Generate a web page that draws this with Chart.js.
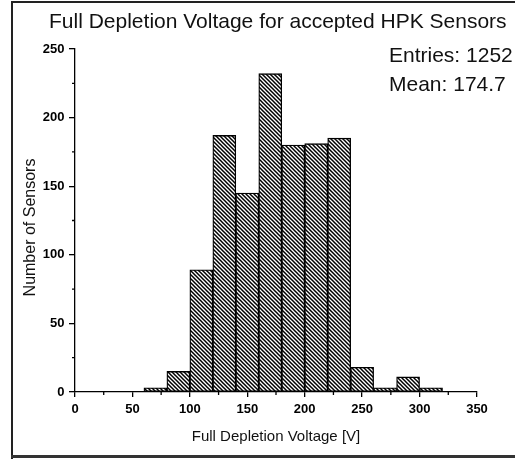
<!DOCTYPE html>
<html>
<head>
<meta charset="utf-8">
<script src="https://cdn.jsdelivr.net/npm/chart.js@4.4.0/dist/chart.umd.min.js"></script>
<style>
  html, body { margin: 0; padding: 0; background: #fff; }
  canvas { display: block; }
</style>
</head>
<body>
<canvas id="chart" width="515" height="459"></canvas>
<script>
// histogram bins: left edge of each 20 V bin and the number of sensors in it
const binStarts = [60, 80, 100, 120, 140, 160, 180, 200, 220, 240, 260, 280, 300];
const binWidth = 20;
const counts = [3, 15, 89, 187, 145, 232, 180, 181, 185, 18, 3, 11, 3];

const titleText = 'Full Depletion Voltage for accepted HPK Sensors';
const statLines = ['Entries: 1252', 'Mean: 174.7'];
const xTitle = 'Full Depletion Voltage [V]';
const yTitle = 'Number of Sensors';

const canvas = document.getElementById('chart');
const ctx = canvas.getContext('2d');

// diagonal hatch fill like the original plot
function makeHatch() {
    const t = document.createElement('canvas');
    t.width = 4;
    t.height = 4;
    const g = t.getContext('2d');
    g.fillStyle = '#fff';
    g.fillRect(0, 0, 4, 4);
    g.strokeStyle = '#000';
    g.lineWidth = 1.5;
    g.beginPath();
    g.moveTo(-1, -1); g.lineTo(5, 5);
    g.moveTo(-1, 3); g.lineTo(1, 5);
    g.moveTo(3, -1); g.lineTo(5, 1);
    g.stroke();
    return ctx.createPattern(t, 'repeat');
}

const tickFont = { family: "'Liberation Sans', Arial, sans-serif", size: 13, weight: 'bold' };

// frame, title, stats box, y title and minor ticks
const decorations = {
    id: 'decorations',
    beforeDraw(chart) {
        const c = chart.ctx;
        c.save();
        c.fillStyle = '#fff';
        c.fillRect(0, 0, chart.width, chart.height);
        c.restore();
    },
    afterDraw(chart) {
        const c = chart.ctx;
        const x = chart.scales.x;
        const y = chart.scales.y;
        c.save();

        // frame
        c.strokeStyle = '#222';
        c.lineWidth = 2;
        c.beginPath();
        c.moveTo(12, chart.height);
        c.lineTo(12, 2);
        c.lineTo(chart.width, 2);
        c.stroke();
        c.strokeStyle = '#333';
        c.lineWidth = 3;
        c.beginPath();
        c.moveTo(11, 456.5);
        c.lineTo(chart.width, 456.5);
        c.stroke();

        // minor ticks
        c.strokeStyle = '#000';
        c.lineWidth = 1.3;
        c.beginPath();
        for (let v = 25; v < 350; v += 50) {
            const px = x.getPixelForValue(v);
            c.moveTo(px, x.top);
            c.lineTo(px, x.top + 3);
        }
        for (let v = 25; v < 250; v += 50) {
            const py = y.getPixelForValue(v);
            c.moveTo(y.right, py);
            c.lineTo(y.right - 3, py);
        }
        c.stroke();

        // texts
        c.fillStyle = '#111';
        c.textBaseline = 'alphabetic';
        c.textAlign = 'left';
        c.font = "21px 'Liberation Sans', Arial, sans-serif";
        c.fillText(titleText, 49, 28);
        statLines.forEach((s, i) => c.fillText(s, 389, 62 + i * 29));

        c.translate(31, 227.5);
        c.rotate(-Math.PI / 2);
        c.textAlign = 'center';
        c.textBaseline = 'middle';
        c.font = "16px 'Liberation Sans', Arial, sans-serif";
        c.fillText(yTitle, 0, 0);
        c.restore();
    }
};

new Chart(ctx, {
    type: 'bar',
    data: {
        datasets: [{
            data: binStarts.map((s, i) => ({ x: s + binWidth / 2, y: counts[i] })),
            backgroundColor: makeHatch(),
            borderColor: '#000',
            borderWidth: 1.3,
            borderSkipped: false,
            barPercentage: 1,
            categoryPercentage: 1
        }]
    },
    options: {
        responsive: false,
        animation: false,
        events: [],
        layout: { padding: { top: 49, right: 38, left: 0, bottom: 0 } },
        plugins: {
            legend: { display: false },
            tooltip: { enabled: false },
            title: { display: false }
        },
        scales: {
            x: {
                type: 'linear',
                min: 0,
                max: 350,
                offset: false,
                afterFit: s => { s.height = 67; },
                ticks: { stepSize: 50, color: '#000', font: tickFont, padding: 5, maxRotation: 0 },
                grid: { drawOnChartArea: false, drawTicks: true, tickLength: 5, color: '#000', lineWidth: 1.3, offset: false },
                border: { display: true, color: '#000', width: 1.3 },
                title: {
                    display: true,
                    text: xTitle,
                    color: '#111',
                    font: { family: "'Liberation Sans', Arial, sans-serif", size: 15 },
                    padding: { top: 0, bottom: 13 }
                }
            },
            y: {
                min: 0,
                max: 250,
                afterFit: s => { s.width = 75; },
                ticks: { stepSize: 50, color: '#000', font: tickFont, padding: 4.5 },
                grid: { drawOnChartArea: false, drawTicks: true, tickLength: 6, color: '#000', lineWidth: 1.3 },
                border: { display: true, color: '#000', width: 1.3 }
            }
        }
    },
    plugins: [decorations]
});
</script>
</body>
</html>
